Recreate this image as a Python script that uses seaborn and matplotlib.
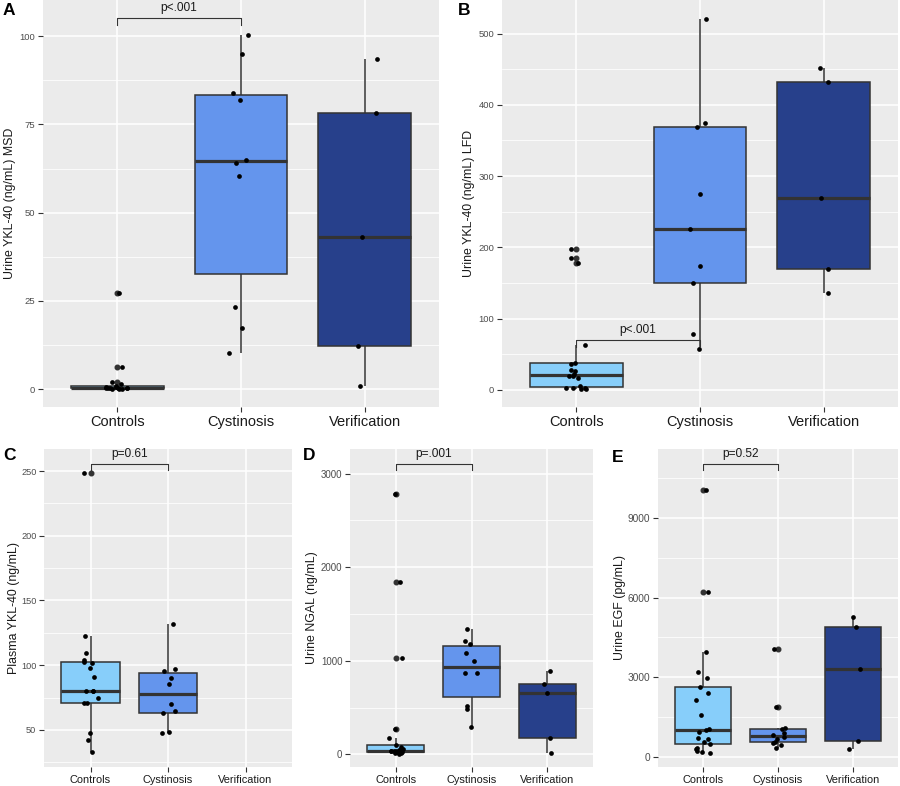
import numpy as np
import pandas as pd
import seaborn as sns
import matplotlib.pyplot as plt

plt.rcParams['font.family'] = ['Liberation Sans', 'DejaVu Sans']

groups = ['Controls', 'Cystinosis', 'Verification']
group_colors = ['#87CEFA', '#6495ED', '#27408B']

# A - urine YKL-40 (MSD)
a_controls = [0.0, 0.05, 0.1, 0.15, 0.2, 0.25, 0.3, 0.35, 0.4, 0.5, 0.6, 0.8, 1.3, 2.1, 6.3, 27.2]
a_cystinosis = [10.3, 17.4, 23.3, 60.5, 64.2, 65.0, 81.9, 83.8, 94.9, 100.4]
a_verification = [0.8, 12.2, 43.1, 78.2, 93.7]

# B - urine YKL-40 (LFD)
b_controls = [0.8, 1.2, 2.0, 2.5, 3.3, 5.0, 16.8, 19.6, 20.0, 22.0, 26.0, 28.0, 37.0, 38.3, 62.6,
              177.6, 185.5, 197.7]
b_cystinosis = [57.0, 78.5, 150.5, 174.3, 225.2, 274.8, 369.0, 373.8, 520.6]
b_verification = [136, 170, 269, 432, 451]

# C - plasma YKL-40
c_controls = [32.6, 42.4, 48.0, 71.0, 71.2, 74.8, 79.9, 80.2, 80.4, 91.2, 98.1, 102.0, 102.5, 104.3,
              109.4, 122.8, 248.7]
c_cystinosis = [47.4, 48.5, 62.9, 64.9, 70.3, 85.3, 89.9, 95.8, 97.4, 131.9]
c_verification = []

# D - urine NGAL
d_controls = [5, 10, 14, 18, 22, 25, 28, 30, 33, 36, 38, 45, 50, 60, 80, 99, 178, 274, 1029, 1845, 2782]
d_cystinosis = [288, 488, 520, 873, 873, 1001, 1086, 1179, 1211, 1336]
d_verification = [18, 178, 652, 755, 890]

# E - urine EGF
e_controls = [150, 200, 250, 300, 340, 510, 560, 700, 720, 940, 1025, 1050, 1580, 2140, 2430, 2650,
              2990, 3210, 3950, 6220, 10040]
e_cystinosis = [349, 450, 540, 580, 700, 780, 820, 900, 1050, 1111, 1877, 4080]
e_verification = [300, 626, 3304, 4907, 5282]

W, H = 900, 786
np.random.seed(3)
fig = plt.figure(figsize=(W / 100, H / 100), dpi=100)


def px_axes(x0, y0, x1, y1):
    return fig.add_axes([x0 / W, 1 - y1 / H, (x1 - x0) / W, (y1 - y0) / H])


def draw_panel(ax, values, ylabel, ylim, yticks, yminor, bracket, ptext,
               xfs, yfs, labfs, labx):
    rows = []
    for g, vals in zip(groups, values):
        rows += [(g, v) for v in vals]
    df = pd.DataFrame(rows, columns=['group', 'value'])

    sns.boxplot(data=df, x='group', y='value', hue='group', order=groups, hue_order=groups,
                palette=dict(zip(groups, group_colors)), saturation=1, width=0.75, linewidth=1.1,
                linecolor='#333333', fliersize=3.3, showcaps=False, legend=False,
                flierprops=dict(marker='o', markerfacecolor='#333333', markeredgecolor='#333333'),
                medianprops=dict(linewidth=2.3, color='#333333'), ax=ax)
    sns.stripplot(data=df, x='group', y='value', order=groups, color='black', size=3.4,
                  jitter=0.1, linewidth=0, zorder=3, ax=ax)

    # significance bracket
    top, tip = bracket
    ax.plot([0, 0, 1, 1], [tip, top, top, tip], color='#333333', lw=0.8, zorder=4)
    ax.annotate(ptext, (0.5, top), xytext=(0, 3), textcoords='offset points',
                ha='center', va='bottom', fontsize=8.6, color='#1A1A1A')

    ax.set_facecolor('#EBEBEB')
    for s in ax.spines.values():
        s.set_visible(False)
    ax.set_xlim(-0.6, 2.6)
    ax.set_ylim(*ylim)
    ax.set_yticks(yticks)
    ax.set_yticks(yminor, minor=True)
    ax.set_axisbelow(True)
    ax.grid(which='major', color='white', lw=1.1)
    ax.grid(which='minor', axis='y', color='white', lw=0.55)
    ax.tick_params(axis='both', which='major', length=3.5, width=0.8, color='#333333')
    ax.tick_params(axis='y', which='minor', length=0)
    ax.tick_params(axis='y', labelsize=yfs, labelcolor='#4D4D4D', pad=2)
    ax.tick_params(axis='x', labelsize=xfs, labelcolor='#1A1A1A', pad=2)
    ax.set_xlabel('')
    ax.set_ylabel(ylabel, fontsize=labfs, color='#1A1A1A')
    ax.yaxis.set_label_coords(labx, 0.5)


ax_a = px_axes(43, 0, 439, 407)
draw_panel(ax_a, [a_controls, a_cystinosis, a_verification], 'Urine YKL-40 (ng/mL) MSD',
           (-5.1, 110.3), [0, 25, 50, 75, 100], [12.5, 37.5, 62.5, 87.5],
           (105.1, 103.2), 'p<.001', 10.5, 6.8, 8.9, (16 - 43) / 396)

ax_b = px_axes(502, 0, 898, 407)
draw_panel(ax_b, [b_controls, b_cystinosis, b_verification], 'Urine YKL-40 (ng/mL) LFD',
           (-24, 547), [0, 100, 200, 300, 400, 500], [50, 150, 250, 350, 450],
           (70, 60.6), 'p<.001', 10.5, 6.8, 8.9, (475 - 502) / 396)

ax_c = px_axes(44, 449, 292, 767)
draw_panel(ax_c, [c_controls, c_cystinosis, c_verification], 'Plasma YKL-40 (ng/mL)',
           (21.4, 267), [50, 100, 150, 200, 250], [25, 75, 125, 175, 225],
           (255.4, 250.8), 'p=0.61', 7.9, 6.6, 8.9, (20 - 44) / 248)

ax_d = px_axes(350, 449, 593, 767)
draw_panel(ax_d, [d_controls, d_cystinosis, d_verification], 'Urine NGAL (ng/mL)',
           (-136, 3264), [0, 1000, 2000, 3000], [500, 1500, 2500],
           (3100, 3039), 'p=.001', 7.9, 7.0, 8.9, (318 - 350) / 243)

ax_e = px_axes(658, 449, 898, 767)
draw_panel(ax_e, [e_controls, e_cystinosis, e_verification], 'Urine EGF (pg/mL)',
           (-364, 11580), [0, 3000, 6000, 9000], [1500, 4500, 7500, 10500],
           (11003, 10790), 'p=0.52', 7.9, 7.3, 8.9, (626 - 658) / 240)

# panel letters
for letter, x, y in [('A', 3, 3), ('B', 458, 3), ('C', 3, 448), ('D', 303, 448), ('E', 612, 450)]:
    fig.text(x / W, 1 - y / H, letter, fontsize=12.5, fontweight='bold', ha='left', va='top')

fig.savefig('out.png', dpi=100)
